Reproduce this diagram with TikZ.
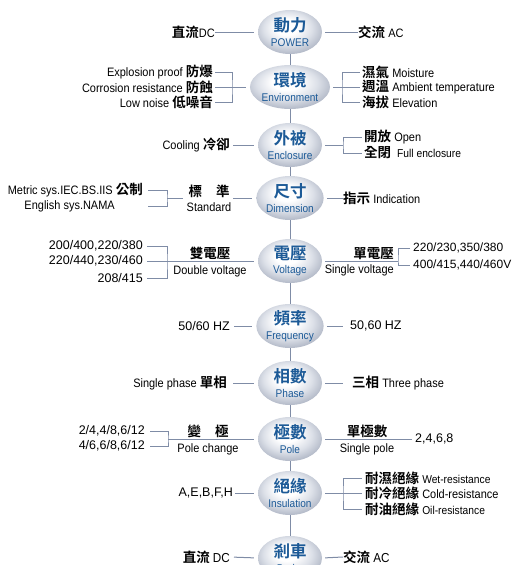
\documentclass[tikz,border=0pt]{standalone}
\usepackage{fontspec}
\setmainfont{Liberation Sans}
\newfontfamily\nar{Liberation Sans}[FakeStretch=0.9]
\newfontfamily\cjk{Noto Sans CJK TC}[BoldFont={* Bold}]
\usetikzlibrary{shapes.geometric}
\definecolor{ebl}{HTML}{1C5A97}
\definecolor{lnc}{HTML}{7F8CA6}
\definecolor{ellrim}{HTML}{AEB5C4}
\definecolor{ellmid}{HTML}{DCE0E8}
\pgfdeclareradialshading{bubble}{\pgfpoint{-3bp}{7bp}}{color(0bp)=(white); color(9bp)=(white); color(19bp)=(ellmid); color(29bp)=(ellrim); color(50bp)=(ellrim)}
\newcommand{\zh}[1]{{\cjk\bfseries\fontsize{13.5}{13.5}\selectfont #1}}
\newcommand{\et}[2]{{\cjk\bfseries\fontsize{16.5}{16.5}\selectfont #1}\\#2}
\newcommand{\sm}[1]{{\fontsize{11.4}{13}\selectfont #1}}
\tikzset{
  ell/.style={ellipse, minimum width=64pt, minimum height=44pt, inner sep=0pt,
    shading=bubble, align=center, text=ebl, font=\nar\fontsize{11.2}{14.5}\selectfont},
  lbl/.style={inner sep=0pt, font=\nar\fontsize{12.2}{15.5}\selectfont},
  num/.style={inner sep=0pt, font=\fontsize{12.5}{15}\selectfont},
  rnum/.style={inner sep=0pt, font=\fontsize{12}{15}\selectfont},
  conn/.style={draw=lnc, line width=1pt},
}
\begin{document}
\begin{tikzpicture}[x=1pt, y=-1pt]
\useasboundingbox (0,0) rectangle (513,565);
\clip (0,0) rectangle (513,565);
% ellipses
\node[ell] (pw) at (290,32) {\et{動力}{POWER}};
\node[ell] (env) at (290,87) {\et{環境}{Environment}};
\node[ell] (enc) at (290,145) {\et{外被}{Enclosure}};
\node[ell] (dim) at (290,198) {\et{尺寸}{Dimension}};
\node[ell] (vo) at (290,261) {\et{電壓}{Voltage}};
\node[ell] (fr) at (290,326) {\et{頻率}{Frequency}};
\node[ell] (ph) at (290,383) {\et{相數}{Phase}};
\node[ell] (po) at (290,439) {\et{極數}{Pole}};
\node[ell] (ins) at (290,493) {\et{絕緣}{Insulation}};
\node[ell] (br) at (290,558) {\et{剎車}{Brake}};
\foreach \a/\b in {pw/env,env/enc,enc/dim,dim/vo,vo/fr,fr/ph,ph/po,po/ins,ins/br}
  \draw[conn] (\a.south) -- (\b.north);

% POWER
\node[lbl, anchor=east] (p1) at (215,32) {\zh{直流}DC};
\node[lbl, anchor=west] (p2) at (358,32) {\zh{交流} AC};
\draw[conn, shorten >=4pt] (p1.east) -- (pw.west);
\draw[conn, shorten <=3pt] (pw.east) -- (p2.west);

% ENVIRONMENT
\node[lbl, anchor=east] (e1) at (213,72) {Explosion proof \zh{防爆}};
\node[lbl, anchor=east] (e2) at (213,87) {Corrosion resistance \zh{防蝕}};
\node[lbl, anchor=east] (e3) at (213,102) {Low noise \zh{低噪音}};
\coordinate (eL) at (232,87);
\draw[conn, shorten <=2pt, shorten >=2pt] (e1.east) -| (eL) |- (e3.east);
\draw[conn, shorten <=2pt] (e2.east) -- (eL);
\draw[conn, shorten >=4pt] (eL) -- (env.west);
\node[lbl, anchor=west] (r1) at (362,72) {\zh{濕氣} Moisture};
\node[lbl, anchor=west] (r2) at (362,87) {\zh{週溫} Ambient temperature};
\node[lbl, anchor=west] (r3) at (362,102) {\zh{海拔} Elevation};
\coordinate (eR) at (342,87);
\draw[conn, shorten <=3pt] (env.east) -- (eR);
\draw[conn, shorten <=2pt, shorten >=2pt] (r1.west) -| (eR) |- (r3.west);
\draw[conn, shorten >=2pt] (eR) -- (r2.west);

% ENCLOSURE
\node[lbl, anchor=east] (c1) at (230,145) {Cooling \zh{冷卻}};
\draw[conn, shorten <=3pt, shorten >=4pt] (c1.east) -- (enc.west);
\coordinate (nR) at (343,145);
\node[lbl, anchor=west] (n1) at (364,137) {\zh{開放} Open};
\node[lbl, anchor=west] (n2) at (364,153) {\zh{全閉}\hspace{6pt}\sm{Full enclosure}};
\draw[conn, shorten <=3pt] (enc.east) -- (nR);
\draw[conn, shorten <=2pt, shorten >=2pt] (n1.west) -| (nR) |- (n2.west);

% DIMENSION
\node[lbl, anchor=east] (d1) at (143,190) {Metric sys.IEC.BS.IIS \zh{公制}};
\node[lbl, anchor=east] (d2) at (115,206) {English sys.NAMA};
\coordinate (dS) at (148,206);
\coordinate (dL) at (167,198);
\draw[conn, shorten <=5pt] (d1.east) -| (dL) |- (dS);
\node[lbl, align=center] (std) at (209,198.5) {\zh{標}\hspace{14pt}\zh{準}\\Standard};
\draw[conn, shorten >=4pt] (dL) -- (std.west |- dim);
\draw[conn, shorten >=4pt, shorten <=2pt] (std.east |- dim) -- (dim.west);
\node[lbl, anchor=west] (dr) at (343,198) {\zh{指示} Indication};
\draw[conn, shorten <=3pt] (dim.east) -- (dr.west);

% VOLTAGE
\node[num, anchor=east] (v1) at (143,246) {200/400,220/380};
\node[num, anchor=east] (v2) at (143,261) {220/440,230/460};
\node[num, anchor=east] (v3) at (143,278) {208/415};
\coordinate (vL) at (167,261);
\draw[conn, shorten <=4pt, shorten >=4pt] (v1.east) -| (vL) |- (v3.east);
\draw[conn, shorten <=4pt] (v2.east) -- (vL);
\node[lbl, align=center] (dv) at (210,262) {\zh{雙電壓}\\Double voltage};
\draw[conn, shorten >=4pt] (vL) -- (vo.west);
\node[lbl, align=right, anchor=east] (sv) at (394,262) {\zh{單電壓}\\Single voltage};
\coordinate (vR) at (398,261);
\draw[conn, shorten <=3pt] (vo.east) -- (vR);
\node[rnum, anchor=west] (w1) at (413,248) {220/230,350/380};
\node[rnum, anchor=west] (w2) at (413,265) {400/415,440/460V};
\draw[conn, shorten <=3pt, shorten >=3pt] (w1.west) -| (vR) |- (w2.west);

% FREQUENCY
\node[num, anchor=east] (f1) at (230,326) {50/60 HZ};
\node[num, anchor=west] (f2) at (350,326) {50,60 HZ};
\draw[conn, shorten <=4pt, shorten >=4pt] (f1.east) -- (fr.west);
\draw[conn, shorten <=3pt, shorten >=7pt] (fr.east) -- (f2.west);

% PHASE
\node[lbl, anchor=east] (h1) at (227,383) {Single phase \zh{單相}};
\node[lbl, anchor=west] (h2) at (352,383) {\zh{三相} Three phase};
\draw[conn, shorten <=6pt, shorten >=4pt] (h1.east) -- (ph.west);
\draw[conn, shorten <=3pt, shorten >=9pt] (ph.east) -- (h2.west);

% POLE
\node[num, anchor=east] (o1) at (145,431) {2/4,4/8,6/12};
\node[num, anchor=east] (o2) at (145,446) {4/6,6/8,6/12};
\coordinate (oL) at (168,439);
\draw[conn, shorten <=5pt, shorten >=5pt] (o1.east) -| (oL) |- (o2.east);
\node[lbl, align=center] (pc) at (208,440) {\zh{變}\hspace{14pt}\zh{極}\\Pole change};
\draw[conn, shorten >=4pt] (oL) -- (po.west);
\node[lbl, align=center] (sp) at (367,440) {\zh{單極數}\\Single pole};
\node[num, anchor=west] (pn) at (415,439) {2,4,6,8};
\draw[conn, shorten <=3pt, shorten >=3pt] (po.east) -- (pn.west);

% INSULATION
\node[num, anchor=east] (i1) at (233,493) {A,E,B,F,H};
\draw[conn, shorten <=2pt, shorten >=4pt] (i1.east) -- (ins.west);
\coordinate (iR) at (343,493);
\node[lbl, anchor=west] (j1) at (365,478) {\zh{耐濕絕緣} \sm{Wet-resistance}};
\node[lbl, anchor=west] (j2) at (365,493) {\zh{耐冷絕緣} Cold-resistance};
\node[lbl, anchor=west] (j3) at (365,509) {\zh{耐油絕緣} \sm{Oil-resistance}};
\draw[conn, shorten <=3pt] (ins.east) -- (iR);
\draw[conn, shorten <=3pt, shorten >=3pt] (j1.west) -| (iR) |- (j3.west);
\draw[conn, shorten >=3pt] (iR) -- (j2.west);

% BRAKE
\node[lbl, anchor=east] (b1) at (230,557) {\zh{直流} {\fontsize{13}{14}\selectfont DC}};
\node[lbl, anchor=west] (b2) at (343,557) {\zh{交流} {\fontsize{13}{14}\selectfont AC}};
\draw[conn, shorten <=4pt, shorten >=4pt] (b1.east) -- (br.west);
\draw[conn, shorten <=3pt] (br.east) -- (b2.west);
\end{tikzpicture}
\end{document}
